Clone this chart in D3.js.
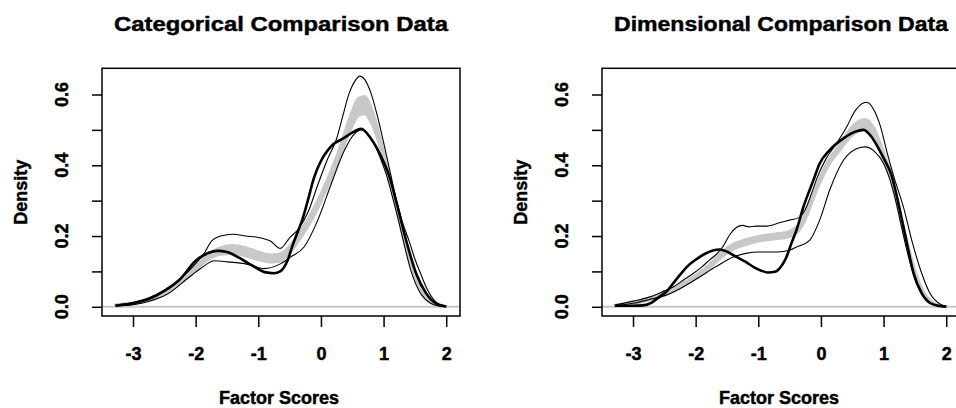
<!DOCTYPE html>
<html>
<head>
<meta charset="utf-8">
<script src="https://cdn.jsdelivr.net/npm/d3@7"></script>
<style>
body { margin: 0; background: #fff; }
svg text { font-family: "Liberation Sans", Arial, sans-serif; font-weight: bold; fill: #000; stroke: #000; stroke-width: 0.45px; }
</style>
</head>
<body>
<div id="vis"></div>
<script>
var width = 956,
    height = 408;

var titles = ["Categorical Comparison Data", "Dimensional Comparison Data"];
var xLabel = "Factor Scores";
var yLabel = "Density";

var xTicks = [-3, -2, -1, 0, 1, 2];
var yTicks = [0, 0.1, 0.2, 0.3, 0.4, 0.5, 0.6];
var yTickLabels = ["0.0", "", "0.2", "", "0.4", "", "0.6"];

// categorical panel: [x, density]
var catObserved = [[-3.28,0.003],[-3.0,0.010],[-2.75,0.022],[-2.5,0.045],[-2.25,0.078],[-2.0,0.130],[-1.8,0.152],[-1.65,0.158],[-1.5,0.155],[-1.3,0.138],[-1.1,0.117],[-0.9,0.098],[-0.75,0.095],[-0.65,0.100],[-0.53,0.132],[-0.45,0.175],[-0.37,0.212],[-0.29,0.25],[-0.21,0.30],[-0.11,0.365],[0.0,0.412],[0.1,0.44],[0.2,0.46],[0.35,0.475],[0.5,0.492],[0.64,0.503],[0.8,0.475],[0.96,0.425],[1.09,0.37],[1.22,0.285],[1.36,0.188],[1.52,0.094],[1.68,0.038],[1.85,0.008],[2.0,0.001]];
var catUpper = [[-3.28,0.005],[-3.0,0.012],[-2.75,0.025],[-2.5,0.046],[-2.25,0.078],[-2.0,0.122],[-1.85,0.155],[-1.75,0.185],[-1.6,0.2],[-1.4,0.205],[-1.2,0.2],[-1.0,0.196],[-0.8,0.185],[-0.65,0.165],[-0.5,0.195],[-0.35,0.222],[-0.2,0.27],[-0.05,0.345],[0.1,0.415],[0.25,0.475],[0.35,0.54],[0.45,0.603],[0.55,0.64],[0.62,0.652],[0.7,0.642],[0.8,0.603],[0.9,0.54],[1.0,0.465],[1.1,0.385],[1.2,0.305],[1.3,0.24],[1.41,0.185],[1.5,0.135],[1.6,0.09],[1.7,0.048],[1.8,0.02],[1.9,0.005],[2.0,0.001]];
var catLower = [[-3.28,0.002],[-3.0,0.006],[-2.75,0.015],[-2.45,0.036],[-2.13,0.08],[-1.92,0.108],[-1.7,0.13],[-1.49,0.127],[-1.17,0.12],[-0.91,0.108],[-0.64,0.122],[-0.48,0.141],[-0.27,0.169],[-0.05,0.245],[0.16,0.345],[0.37,0.44],[0.53,0.488],[0.65,0.50],[0.8,0.475],[0.95,0.42],[1.05,0.37],[1.15,0.305],[1.25,0.235],[1.31,0.19],[1.44,0.1],[1.6,0.035],[1.75,0.01],[1.9,0.002],[2.0,0.0]];
// gray band: [x, low, high]
var catBand = [[-3.28,0.003,0.006],[-3.0,0.008,0.012],[-2.75,0.018,0.024],[-2.5,0.038,0.046],[-2.25,0.066,0.076],[-2.0,0.103,0.116],[-1.8,0.133,0.148],[-1.6,0.148,0.168],[-1.4,0.150,0.174],[-1.2,0.143,0.168],[-1.0,0.133,0.156],[-0.8,0.126,0.147],[-0.65,0.128,0.15],[-0.5,0.152,0.172],[-0.3,0.2,0.222],[-0.1,0.26,0.284],[0.1,0.335,0.36],[0.3,0.42,0.45],[0.45,0.49,0.53],[0.6,0.54,0.59],[0.7,0.545,0.595],[0.8,0.52,0.565],[0.9,0.475,0.51],[1.0,0.415,0.44],[1.1,0.35,0.37],[1.2,0.28,0.30],[1.3,0.205,0.225],[1.4,0.14,0.155],[1.5,0.085,0.098],[1.6,0.045,0.055],[1.7,0.02,0.027],[1.8,0.007,0.011],[1.9,0.002,0.004],[2.0,0.0,0.001]];

// dimensional panel
var dimObserved = [[-3.29,0.003],[-3.0,0.003],[-2.84,0.004],[-2.7,0.012],[-2.58,0.028],[-2.45,0.046],[-2.36,0.066],[-2.25,0.09],[-2.14,0.113],[-2.0,0.133],[-1.85,0.15],[-1.62,0.162],[-1.5,0.156],[-1.35,0.141],[-1.2,0.127],[-1.08,0.113],[-0.95,0.102],[-0.85,0.097],[-0.72,0.1],[-0.62,0.118],[-0.55,0.141],[-0.47,0.18],[-0.39,0.217],[-0.28,0.282],[-0.12,0.358],[-0.02,0.405],[0.14,0.443],[0.36,0.476],[0.55,0.495],[0.68,0.50],[0.8,0.482],[0.89,0.457],[1.0,0.42],[1.13,0.37],[1.24,0.29],[1.36,0.19],[1.48,0.094],[1.61,0.038],[1.75,0.01],[1.9,0.002],[2.0,0.0]];
var dimUpper = [[-3.29,0.005],[-3.0,0.016],[-2.73,0.028],[-2.5,0.045],[-2.36,0.056],[-2.2,0.075],[-2.04,0.094],[-1.9,0.113],[-1.78,0.132],[-1.65,0.152],[-1.57,0.169],[-1.45,0.205],[-1.35,0.224],[-1.25,0.23],[-1.15,0.226],[-1.03,0.228],[-0.87,0.228],[-0.65,0.238],[-0.5,0.245],[-0.35,0.252],[-0.25,0.275],[-0.15,0.32],[-0.06,0.365],[0.08,0.418],[0.25,0.462],[0.41,0.508],[0.55,0.555],[0.73,0.578],[0.85,0.555],[0.95,0.51],[1.05,0.44],[1.16,0.37],[1.32,0.28],[1.45,0.188],[1.61,0.094],[1.74,0.038],[1.9,0.008],[2.0,0.002]];
var dimLower = [[-3.29,0.003],[-3.0,0.01],[-2.75,0.02],[-2.47,0.033],[-2.2,0.056],[-1.93,0.085],[-1.68,0.113],[-1.41,0.14],[-1.2,0.151],[-0.98,0.155],[-0.7,0.155],[-0.5,0.16],[-0.39,0.169],[-0.18,0.188],[-0.02,0.245],[0.14,0.33],[0.36,0.414],[0.55,0.445],[0.7,0.452],[0.85,0.44],[1.0,0.405],[1.1,0.36],[1.2,0.295],[1.3,0.215],[1.4,0.14],[1.5,0.08],[1.6,0.038],[1.7,0.015],[1.85,0.003],[2.0,0.0]];
var dimBand = [[-3.29,0.002,0.005],[-3.0,0.008,0.012],[-2.75,0.018,0.024],[-2.5,0.032,0.04],[-2.36,0.042,0.052],[-2.2,0.058,0.068],[-2.0,0.08,0.09],[-1.8,0.105,0.117],[-1.57,0.142,0.157],[-1.4,0.162,0.178],[-1.2,0.175,0.19],[-1.03,0.184,0.198],[-0.8,0.19,0.205],[-0.5,0.198,0.214],[-0.35,0.215,0.233],[-0.25,0.245,0.263],[-0.15,0.29,0.306],[-0.03,0.345,0.362],[0.11,0.395,0.412],[0.31,0.444,0.462],[0.5,0.484,0.51],[0.7,0.50,0.53],[0.85,0.478,0.505],[1.0,0.418,0.438],[1.1,0.37,0.388],[1.2,0.30,0.318],[1.3,0.225,0.24],[1.4,0.155,0.168],[1.5,0.095,0.105],[1.6,0.05,0.057],[1.7,0.022,0.027],[1.8,0.008,0.011],[1.9,0.002,0.004],[2.0,0.0,0.001]];

var svg = d3.select('#vis').append('svg')
    .attr("width", width)
    .attr("height", height);

// plot region, same for both panels (R par(mfrow=c(1,2)))
var plotW = 358,
    plotTop = 68.3,
    plotBottom = 316;

var y = d3.scaleLinear().domain([-0.026, 0.674]).range([plotBottom, plotTop]);

function drawPanel(left, title, observed, upper, lower, band) {
    var x = d3.scaleLinear().domain([-3.495, 2.22]).range([left, left + plotW]);

    var g = svg.append("g");

    var clipId = "clip" + left;
    g.append("clipPath").attr("id", clipId)
      .append("rect")
        .attr("x", left).attr("y", plotTop)
        .attr("width", plotW).attr("height", plotBottom - plotTop);

    var plot = g.append("g").attr("clip-path", "url(#" + clipId + ")");

    // zero line
    plot.append("line")
        .attr("x1", left).attr("x2", left + plotW)
        .attr("y1", y(0)).attr("y2", y(0))
        .attr("stroke", "#c8c8c8")
        .attr("stroke-width", 2);

    var area = d3.area()
        .curve(d3.curveMonotoneX)
        .x(function(d) { return x(d[0]); })
        .y0(function(d) { return y(d[1]); })
        .y1(function(d) { return y(d[2]); });

    plot.append("path")
        .datum(band)
        .attr("d", area)
        .attr("fill", "#c8c8c8")
        .attr("stroke", "#c8c8c8")
        .attr("stroke-width", 2.5);

    var line = d3.line()
        .curve(d3.curveMonotoneX)
        .x(function(d) { return x(d[0]); })
        .y(function(d) { return y(d[1]); });

    [upper, lower].forEach(function(s) {
        plot.append("path")
            .datum(s)
            .attr("d", line)
            .attr("fill", "none")
            .attr("stroke", "#000")
            .attr("stroke-width", 1.1);
    });

    plot.append("path")
        .datum(observed)
        .attr("d", line)
        .attr("fill", "none")
        .attr("stroke", "#000")
        .attr("stroke-width", 2.6);

    // box
    g.append("rect")
        .attr("x", left).attr("y", plotTop)
        .attr("width", plotW).attr("height", plotBottom - plotTop)
        .attr("fill", "none")
        .attr("stroke", "#000")
        .attr("stroke-width", 1.5);

    // axes
    var xAxis = g.append("g")
        .attr("transform", "translate(0," + plotBottom + ")")
        .call(d3.axisBottom(x).tickValues(xTicks).tickSize(11).tickPadding(20)
            .tickFormat(function(d) { return d < 0 ? "-" + Math.abs(d) : d; }));
    xAxis.select(".domain").remove();
    xAxis.selectAll(".tick line").attr("stroke", "#000").attr("stroke-width", 1.5);
    xAxis.selectAll(".tick text")
        .attr("font-size", 18)
        .attr("font-family", null)
        .attr("fill", null);

    var yAxis = g.append("g")
        .attr("transform", "translate(" + left + ",0)")
        .call(d3.axisLeft(y).tickValues(yTicks).tickSize(10).tickFormat(""));
    yAxis.select(".domain").remove();
    yAxis.selectAll(".tick line").attr("stroke", "#000").attr("stroke-width", 1.5);

    g.selectAll("text.ylab")
        .data(yTicks)
        .enter()
        .append("text")
        .attr("class", "ylab")
        .attr("transform", function(d) { return "translate(" + (left - 34) + "," + y(d) + ") rotate(-90)"; })
        .attr("text-anchor", "middle")
        .attr("font-size", 18)
        .text(function(d, i) { return yTickLabels[i]; });

    // titles
    g.append("text")
        .attr("x", left + plotW / 2)
        .attr("y", 31)
        .attr("text-anchor", "middle")
        .attr("font-size", 21)
        .attr("textLength", 334)
        .attr("lengthAdjust", "spacingAndGlyphs")
        .text(title);

    g.append("text")
        .attr("x", left + plotW / 2 - 2)
        .attr("y", 404)
        .attr("text-anchor", "middle")
        .attr("font-size", 18)
        .text(xLabel);

    g.append("text")
        .attr("transform", "translate(" + (left - 75) + "," + ((plotTop + plotBottom) / 2) + ") rotate(-90)")
        .attr("text-anchor", "middle")
        .attr("font-size", 18)
        .text(yLabel);
}

drawPanel(102, titles[0], catObserved, catUpper, catLower, catBand);
drawPanel(602, titles[1], dimObserved, dimUpper, dimLower, dimBand);
</script>
</body>
</html>
